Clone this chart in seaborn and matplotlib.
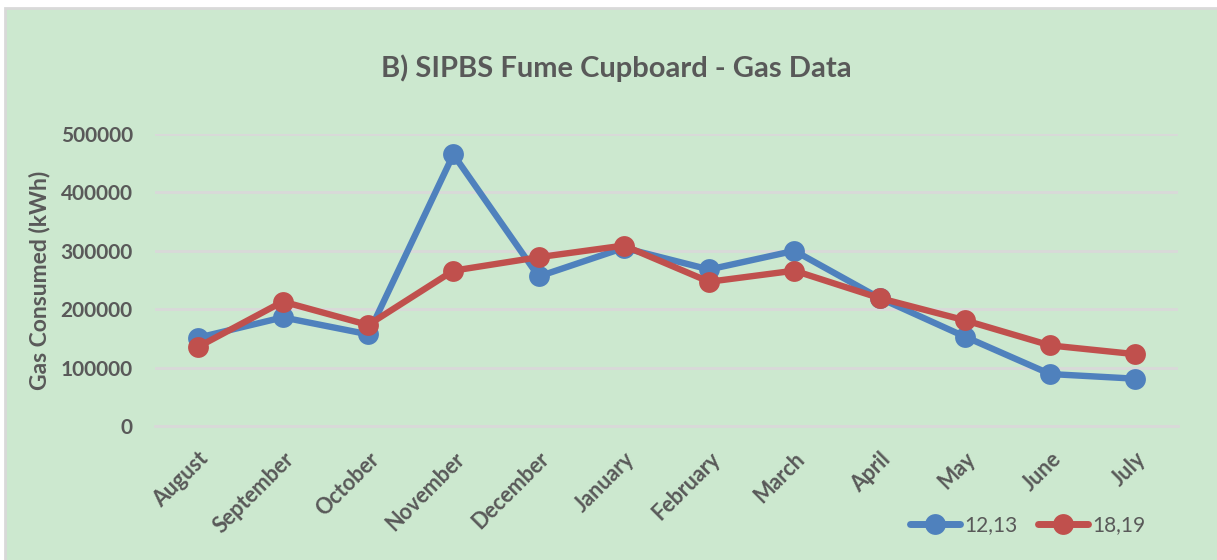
import matplotlib
matplotlib.use("Agg")
import matplotlib.pyplot as plt
from matplotlib.patches import Rectangle
from matplotlib.lines import Line2D
import seaborn as sns
import pandas as pd
import numpy as np

months = ["August", "September", "October", "November", "December", "January",
          "February", "March", "April", "May", "June", "July"]
series_names = ["12,13", "18,19"]
gas_12_13 = [151000, 186000, 157000, 465000, 256000, 305000,
             268000, 300000, 219000, 153000, 89000, 81000]
gas_18_19 = [135000, 213000, 173000, 266000, 289000, 309000,
             247000, 266000, 219000, 181000, 138000, 123000]
yticks = [0, 100000, 200000, 300000, 400000, 500000]

colors = ["#4F81BD", "#C0504D"]
bg = "#CCE8CF"
txt = "#595959"
grid = "#D9D9D9"

sns.set_theme(style="white")
plt.rcParams["font.family"] = ["Lato", "DejaVu Sans"]

df = pd.DataFrame({
    "month": months * 2,
    "x": list(range(len(months))) * 2,
    "value": gas_12_13 + gas_18_19,
    "series": [series_names[0]] * len(months) + [series_names[1]] * len(months),
})

fig = plt.figure(figsize=(12.17, 5.6), dpi=100)
fig.patch.set_facecolor("white")
bgrect = Rectangle((5 / 1217, -0.01), 1.02, 1 - 8 / 560 + 0.01,
                   transform=fig.transFigure, facecolor=bg,
                   edgecolor=grid, linewidth=2, zorder=-10)
fig.patches.append(bgrect)

ax = fig.add_axes([155 / 1217, 1 - 426 / 560, (1178 - 155) / 1217, (426 - 134) / 560])
ax.set_facecolor(bg)

sns.lineplot(data=df, x="x", y="value", hue="series", palette=colors,
             linewidth=4.6, marker="o", markersize=15, markeredgewidth=0,
             ax=ax, legend=False, sort=False)

ax.set_xlim(-0.5, len(months) - 0.5)
ax.set_ylim(0, 500000)
ax.set_yticks(yticks)
ax.set_yticklabels([str(v) for v in yticks], fontsize=15, fontweight="bold", color=txt)
ax.set_xticks(range(len(months)))
ax.set_xticklabels(months, rotation=45, ha="right", rotation_mode="anchor",
                   fontsize=15.5, fontweight="bold", color=txt)
ax.tick_params(axis="x", which="major", length=0, pad=16)
ax.tick_params(axis="y", length=0, pad=16)
ax.set_xticks(np.arange(-0.5, len(months), 1), minor=True)
ax.tick_params(axis="x", which="minor", length=6, width=2, color=grid)

ax.yaxis.grid(True, color=grid, linewidth=2)
ax.set_axisbelow(True)
for s in ["top", "right", "left"]:
    ax.spines[s].set_visible(False)
ax.spines["bottom"].set_color(grid)
ax.spines["bottom"].set_linewidth(2)

ax.set_xlabel("")
ax.set_ylabel("Gas Consumed (kWh)", fontsize=16.5, fontweight="bold", color=txt, labelpad=7)

fig.text(616 / 1217, 1 - 68 / 560, "B) SIPBS Fume Cupboard - Gas Data",
         ha="center", va="center", fontsize=21, fontweight="bold", color=txt)

handles = [Line2D([0], [0], color=c, linewidth=5, marker="o", markersize=15,
                  markeredgewidth=0, solid_capstyle="round") for c in colors]
leg = fig.legend(handles, series_names, loc="center", bbox_to_anchor=(1028 / 1217, 1 - 525 / 560),
                 ncol=2, frameon=False, fontsize=15, handlelength=2.4,
                 columnspacing=1.0, handletextpad=0.2)
for t in leg.get_texts():
    t.set_color(txt)

fig.savefig("out.png", dpi=100, facecolor=fig.get_facecolor())
